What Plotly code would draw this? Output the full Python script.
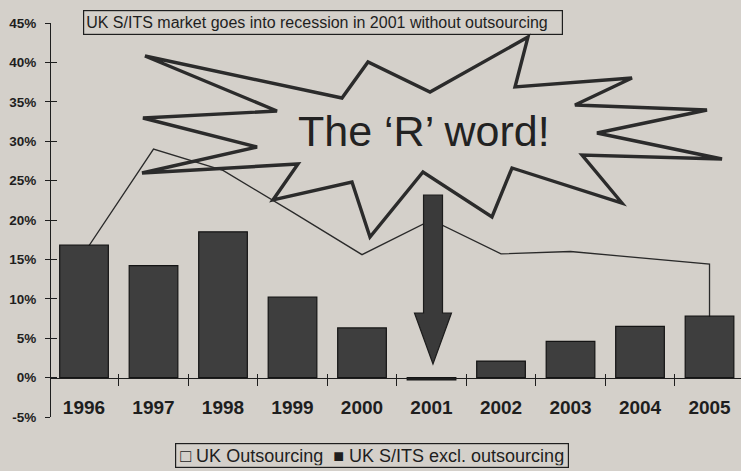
import plotly.graph_objects as go

# ---- data -------------------------------------------------------------
years = ["1996", "1997", "1998", "1999", "2000",
         "2001", "2002", "2003", "2004", "2005"]
sits_excl_outsourcing = [16.8, 14.2, 18.5, 10.2, 6.3, -0.3, 2.1, 4.6, 6.5, 7.8]
uk_outsourcing_total = [15.8, 29.0, 26.3, 21.0, 15.6, 20.0, 15.7, 16.0, 15.2, 14.4]
y_tickvals = [-5, 0, 5, 10, 15, 20, 25, 30, 35, 40, 45]
y_ticktext = [f"{v}%" for v in y_tickvals]

# ---- geometry of the page ---------------------------------------------
W, H = 741, 471
ML, MR, MT, MB = 51, 0, 23, 54
PW, PH = W - ML - MR, H - MT - MB
Y_RANGE = [-5, 45]
X_RANGE = [-0.475, 9.453]
zero_pos = (0 - Y_RANGE[0]) / (Y_RANGE[1] - Y_RANGE[0])

BG = "#d4d0ca"
INK = "#1e1e1e"
BAR = "#3e3e3e"
FONT = "Liberation Sans, Arial, Helvetica, sans-serif"


def px(x, y):
    """Page pixel position -> paper coordinates."""
    return (x - ML) / PW, (MT + PH - y) / PH


fig = go.Figure()

# outsourcing series: unfilled area outline, closed down to the baseline
fig.add_trace(go.Scatter(
    x=[years[0]] + years + [years[-1]],
    y=[0] + uk_outsourcing_total + [0],
    mode="lines",
    line=dict(color="#2a2a2a", width=1.3),
    hoverinfo="skip",
    showlegend=False,
    xaxis="x", yaxis="y",
))

# S/ITS excl. outsourcing bars, on an overlaid pair so they sit above the line
fig.add_trace(go.Bar(
    x=years,
    y=sits_excl_outsourcing,
    marker=dict(color=BAR, line=dict(color="#141414", width=1.2)),
    showlegend=False,
    xaxis="x2", yaxis="y2",
))

common_x = dict(
    type="category", categoryorder="array", categoryarray=years,
    range=X_RANGE, anchor="free", position=zero_pos,
    showline=True, linecolor=INK, linewidth=1.2,
    showgrid=False, zeroline=False, tickson="boundaries",
    tickcolor=INK, tickwidth=1.2,
)
common_y = dict(
    range=Y_RANGE, tickvals=y_tickvals, ticktext=y_ticktext,
    showline=True, linecolor=INK, linewidth=1.2,
    showgrid=False, zeroline=False, tickcolor=INK, tickwidth=1.2,
)

fig.update_layout(
    width=W, height=H,
    margin=dict(l=ML, r=MR, t=MT, b=MB),
    paper_bgcolor=BG, plot_bgcolor=BG,
    bargap=0.3,
    xaxis=dict(**common_x, ticks="outside", ticklen=7,
               tickfont=dict(family=FONT, size=19, color=INK, weight="bold"),
               ticklabelstandoff=12),
    xaxis2=dict(**common_x, overlaying="x", ticks="inside", ticklen=4,
                showticklabels=False),
    yaxis=dict(**common_y, ticks="outside", ticklen=5,
               tickfont=dict(family=FONT, size=13.5, color=INK, weight="bold"),
               ticklabelstandoff=6),
    yaxis2=dict(**common_y, overlaying="y", ticks="inside", ticklen=6,
                showticklabels=False),
)

# starburst outline
burst = [(145, 56), (342, 98), (368, 62), (430, 92), (528, 37), (515, 87),
         (632, 78), (575, 105), (707, 110), (597, 133), (722, 159), (582, 155),
         (622, 203), (512, 168), (492, 217), (423, 172), (370, 237), (352, 182),
         (273, 200), (298, 164), (142, 173), (257, 147), (143, 118), (277, 111)]
pts = [px(x, y) for x, y in burst]
path = "M " + " L ".join(f"{a:.4f},{b:.4f}" for a, b in pts) + " Z"
fig.add_shape(type="path", path=path, xref="paper", yref="paper",
              line=dict(color="#2b2b2b", width=3.4), fillcolor="rgba(0,0,0,0)",
              layer="above")

# big downward arrow pointing at 2001
cx = 433
arrow = [(cx - 9.5, 195), (cx + 9.5, 195), (cx + 9.5, 313), (cx + 18.5, 313),
         (cx, 364), (cx - 18.5, 313), (cx - 9.5, 313)]
apts = [px(x, y) for x, y in arrow]
apath = "M " + " L ".join(f"{a:.4f},{b:.4f}" for a, b in apts) + " Z"
fig.add_shape(type="path", path=apath, xref="paper", yref="paper",
              line=dict(color="#1c1c1c", width=1.2), fillcolor="#3a3a3a",
              layer="above")

# headline box
hx, hy = px(83, 22.5)
fig.add_annotation(
    x=hx, y=hy, xref="paper", yref="paper", xanchor="left", yanchor="middle",
    text="UK S/ITS market goes into recession in 2001 without outsourcing",
    showarrow=False, align="left",
    font=dict(family=FONT, size=16, color=INK),
    bordercolor=INK, borderwidth=1.2, borderpad=2, width=474, height=19,
)

# callout text
tx, ty = px(424, 131)
fig.add_annotation(
    x=tx, y=ty, xref="paper", yref="paper", xanchor="center", yanchor="middle",
    text="The \u2018R\u2019 word!", showarrow=False,
    font=dict(family=FONT, size=43, color="#222222"),
)

# legend box
lx, ly = px(372, 455)
fig.add_annotation(
    x=lx, y=ly, xref="paper", yref="paper", xanchor="center", yanchor="middle",
    text="\u25a1 UK Outsourcing  \u25a0 UK S/ITS excl. outsourcing",
    showarrow=False,
    font=dict(family=FONT, size=18, color=INK),
    bordercolor=INK, borderwidth=1.2, borderpad=2, width=388, height=19,
)

fig.write_html("out.html")
